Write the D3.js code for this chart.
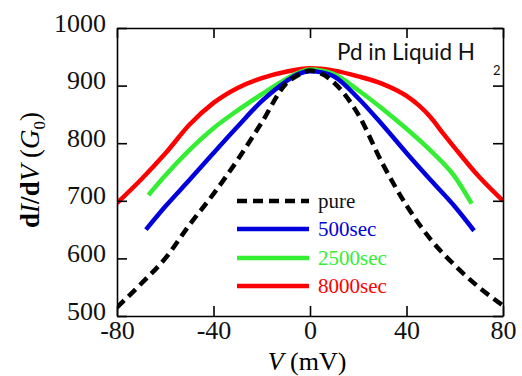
<!DOCTYPE html>
<html><head><meta charset="utf-8">
<script src="https://cdn.jsdelivr.net/npm/d3@7"></script>
<style>body{margin:0;background:#fff}svg{display:block}</style>
</head><body>
<svg id="c" width="522" height="376"></svg>
<script>
const xTicks = [-80, -40, 0, 40, 80];
const yTicks = [500, 600, 700, 800, 900, 1000];
const seriesNames = ["pure", "500sec", "2500sec", "8000sec"];
const seriesColors = ["#000000", "#0000dd", "#33ee33", "#ff0000"];
const pureV = [-80,-70,-60,-50,-40,-30,-20,-10,-5,0,5,10,20,30,40,50,60,70,80];
const pureG = [515,556,600,658,712,771,836,903,918,926,920,905,850,765,692,633,588,550,518];
const s500V = [-68,-60,-50,-40,-30,-20,-10,-5,0,5,10,20,30,40,50,60,68];
const s500G = [650,690,736,783,829,873,907,920,925,923,916,878,832,783,736,690,648];
const s2500V = [-67,-60,-50,-40,-30,-20,-10,-5,0,5,10,20,30,40,50,60,67];
const s2500G = [710,744,788,826,857,885,911,922,928,926,920,892,860,825,787,742,695];
const s8000V = [-80,-70,-60,-50,-40,-30,-20,-10,0,10,20,30,40,45,50,55,60,70,80];
const s8000G = [696,737,782,832,870,896,913,924,930,926,916,903,882,866,845,818,792,742,700];

const svg = d3.select("#c");
const L = 117, R = 503, T = 28, B = 316;
const x = d3.scaleLinear().domain([-80, 80]).range([L, R]);
const y = d3.scaleLinear().domain([500, 1000]).range([B, T]);

svg.append("defs").append("clipPath").attr("id","pc")
  .append("rect").attr("x", L).attr("y", T).attr("width", R-L).attr("height", B-T);

const series = [
  {V: pureV, G: pureG, dash: "10,6"},
  {V: s500V, G: s500G},
  {V: s2500V, G: s2500G},
  {V: s8000V, G: s8000G}
];
const line = d3.line().x(d => x(d[0])).y(d => y(d[1])).curve(d3.curveMonotoneX);
const g = svg.append("g").attr("clip-path", "url(#pc)");
[3,2,1,0].forEach(i => {
  const s = series[i];
  g.append("path").datum(s.V.map((v,k)=>[v, s.G[k]]))
    .attr("d", line).attr("fill","none")
    .attr("stroke", seriesColors[i]).attr("stroke-width", 4.5)
    .attr("stroke-dasharray", s.dash || null);
});

const tf = "'Liberation Serif', 'Times New Roman', serif";
const fmt = d => String(d);
const ax = svg.append("g").attr("transform", `translate(0,${B})`)
  .call(d3.axisBottom(x).tickValues(xTicks).tickSizeInner(-10).tickSizeOuter(0).tickPadding(5).tickFormat(fmt));
const ay = svg.append("g").attr("transform", `translate(${L},0)`)
  .call(d3.axisLeft(y).tickValues(yTicks).tickSizeInner(-10).tickSizeOuter(0).tickPadding(11).tickFormat(fmt));
const axT = svg.append("g").attr("transform", `translate(0,${T})`)
  .call(d3.axisTop(x).tickValues(xTicks).tickSizeInner(-10).tickSizeOuter(0).tickFormat(""));
const ayR = svg.append("g").attr("transform", `translate(${R},0)`)
  .call(d3.axisRight(y).tickValues(yTicks).tickSizeInner(-10).tickSizeOuter(0).tickFormat(""));
[ax, ay, axT, ayR].forEach(a => {
  a.selectAll("path").attr("stroke","#000").attr("stroke-width",1.6);
  a.selectAll("line").attr("stroke","#000").attr("stroke-width",1.6);
  a.selectAll("text").attr("font-family", tf).attr("font-size", 26).attr("fill","#111");
});
ax.selectAll("text").attr("dy", "0.71em");
ay.selectAll("text").attr("dy", "0.12em");

// axis titles
svg.append("text").attr("x", 307).attr("y", 370).attr("text-anchor","middle")
  .attr("font-family", tf).attr("font-size", 26)
  .html('<tspan font-style="italic">V</tspan> (mV)');
svg.append("text").attr("transform", "translate(39,170) rotate(-90)").attr("text-anchor","middle")
  .attr("font-family", tf).attr("font-size", 27)
  .html('<tspan font-weight="bold">d</tspan><tspan font-style="italic">I</tspan><tspan font-weight="bold">/d</tspan><tspan font-style="italic">V</tspan> (<tspan font-style="italic">G</tspan><tspan font-size="17" dy="6">0</tspan><tspan dy="-6">)</tspan>');

// annotation
svg.append("text").attr("x", 337).attr("y", 60)
  .attr("font-family", "Lato, 'Open Sans', sans-serif").attr("font-size", 22.5).attr("fill","#111")
  .html('Pd in Liquid H<tspan font-size="13" dx="18" dy="15">2</tspan>');

// legend
const legY = [201, 229, 258, 286];
seriesNames.forEach((n, i) => {
  svg.append("line").attr("x1", 237).attr("x2", 309).attr("y1", legY[i]).attr("y2", legY[i])
    .attr("stroke", seriesColors[i]).attr("stroke-width", 4.5)
    .attr("stroke-dasharray", i === 0 ? "10,6" : null);
  svg.append("text").attr("x", 318).attr("y", legY[i] + 7)
    .attr("font-family", tf).attr("font-size", 21).attr("fill", i === 0 ? "#111" : seriesColors[i])
    .text(n);
});
</script>
</body></html>
